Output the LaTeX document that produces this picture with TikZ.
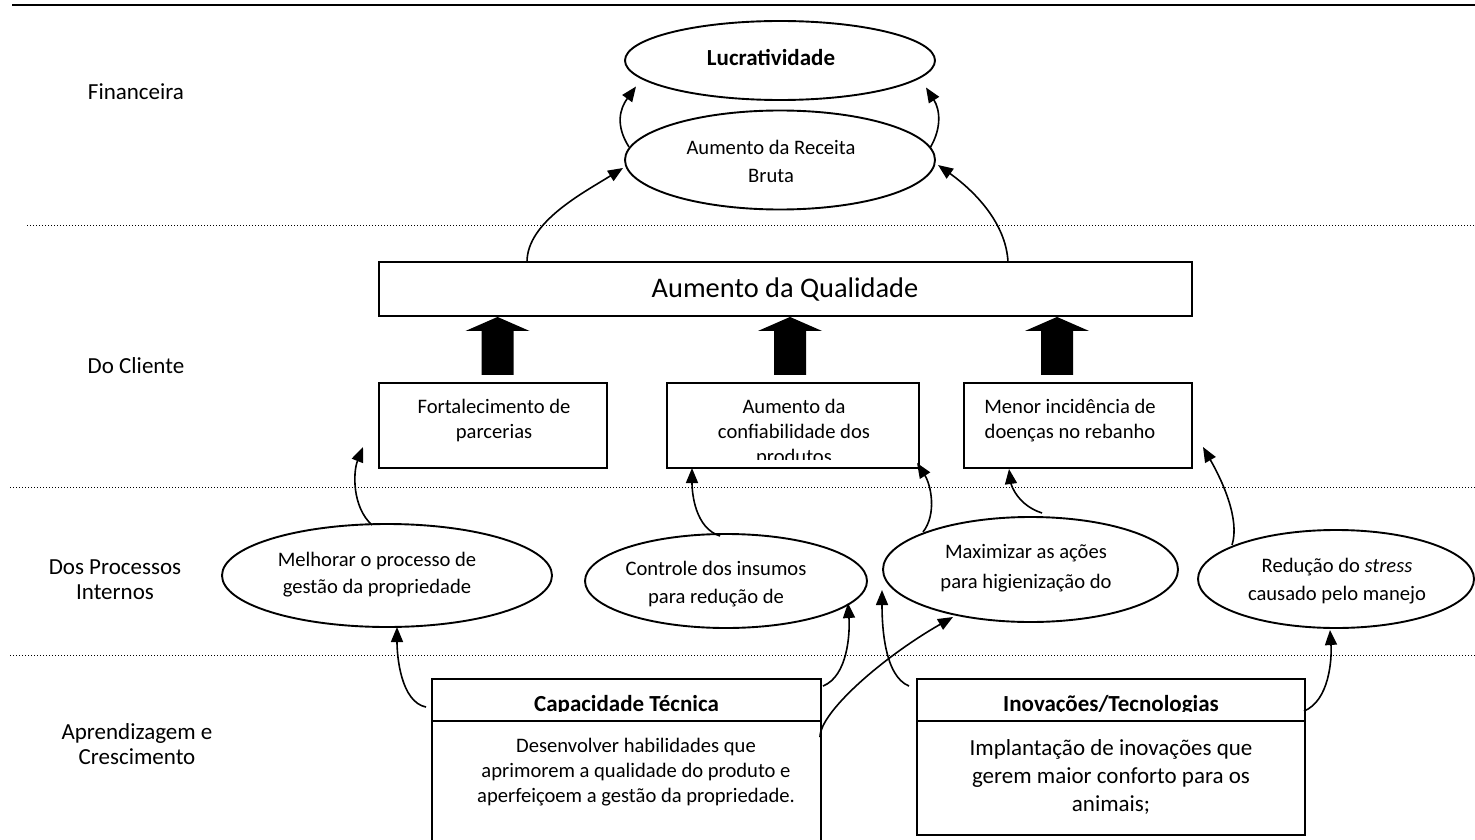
\documentclass[tikz,border=0pt]{standalone}
\usepackage{fontspec}
\setmainfont{Carlito}
\usetikzlibrary{arrows.meta,shapes.geometric}
\begin{document}
\begin{tikzpicture}[x=1pt,y=-1pt,
  conn/.style={line width=1.6pt,-{Triangle[length=15pt,width=12pt]}},
  oval/.style={ellipse,draw,line width=1.9pt,inner sep=0pt},
  boxed/.style={rectangle,draw,line width=1.9pt,inner sep=0pt},
  txt/.style={align=center,inner sep=0pt,font=\fontsize{20.6}{25}\selectfont},
  txtm/.style={align=center,inner sep=0pt,font=\fontsize{23}{25}\selectfont},
  txtl/.style={align=center,inner sep=0pt,font=\fontsize{28.4}{34}\selectfont},
  sep/.style={line width=1pt,dash pattern=on 1pt off 2pt},
  blockarrow/.pic={\fill (-16,58)--(-16,14)--(-32,14)--(0,0)--(32,14)--(16,14)--(16,58)--cycle;}
]
\clip (0,0) rectangle (1475,840);
\fill[white] (0,0) rectangle (1475,840);

% frame lines between the perspectives
\draw[line width=2.2pt] (12,5) -- (1475,5);
\draw[sep] (27,225) -- (1475,225);
\draw[sep] (10,487) -- (1475,487);
\draw[sep] (10,655) -- (1475,655);

% perspective labels
\node[txtm] (lab1) at (136,92) {Financeira};
\node[txtm] (lab2) at (136,366) {Do Cliente};
\node[txtm] (lab3) at (115,580) {Dos Processos\\Internos};
\node[txtm] (lab4) at (137,744) {Aprendizagem e\\Crescimento};

% financial perspective
\node[oval,minimum width=310,minimum height=79] (lucr) at (780,60.5) {};
\node[oval,minimum width=310,minimum height=99] (rec) at (780,160) {};
\node[txtm,font=\fontsize{23}{25}\selectfont\bfseries] (tlucr) at (771,57) {Lucratividade};
\node[txt,font=\fontsize{20.6}{28}\selectfont] (trec) at (771,161) {Aumento da Receita\\Bruta};

% customer perspective
\node[boxed,minimum width=813,minimum height=54] (qual) at (785.5,289) {};
\node[txtl] (tqual) at (785,290) {Aumento da Qualidade};
\node[boxed,minimum width=228,minimum height=85] (c1) at (493,425.5) {};
\node[boxed,minimum width=252,minimum height=85] (c2) at (793,425.5) {};
\node[boxed,minimum width=228,minimum height=85] (c3) at (1078,425.5) {};
\node[txt] (tc1) at (494,421) {Fortalecimento de\\parcerias};
\begin{scope}
  \clip (c2.north west) rectangle ([shift={(0,-9)}]c2.south east);
  \node[txt] (tc2) at (794,433) {Aumento da\\confiabilidade dos\\produtos};
\end{scope}
\node[txt] (tc3) at (1070,421) {Menor incidência de\\doenças no rebanho};

\pic at ([shift={(-288,0)}]qual.south) {blockarrow};
\pic at ([shift={(4.5,0)}]qual.south) {blockarrow};
\pic at ([shift={(271.5,0)}]qual.south) {blockarrow};

% internal processes perspective
\node[oval,minimum width=330,minimum height=103] (e1) at (387,575.5) {};
\node[oval,minimum width=282,minimum height=94] (e2) at (726,581) {};
\node[oval,minimum width=295,minimum height=105] (e3) at (1030.5,569.5) {};
\node[oval,minimum width=276,minimum height=98] (e4) at (1336,579) {};
\node[txt,font=\fontsize{20.6}{27}\selectfont] (te1) at (377,575) {Melhorar o processo de\\gestão da propriedade};
\node[txt,font=\fontsize{20.6}{28}\selectfont] (te2) at (716,584) {Controle dos insumos\\para redução de};
\node[txt,font=\fontsize{20.6}{30}\selectfont] (te3) at (1026,568) {Maximizar as ações\\para higienização do};
\node[txt,font=\fontsize{20.6}{28}\selectfont] (te4) at (1337,581) {Redução do \textit{stress}\\causado pelo manejo};

% learning and growth perspective
\node[boxed,minimum width=389,minimum height=171] (cap) at (626.5,764.5) {};
\draw[line width=1.9pt] ([shift={(0,43)}]cap.north west) -- ([shift={(0,43)}]cap.north east);
\node[boxed,minimum width=388,minimum height=156] (ino) at (1111,757) {};
\draw[line width=1.9pt] ([shift={(0,43)}]ino.north west) -- ([shift={(0,43)}]ino.north east);
\begin{scope}
  \clip (cap.north west) rectangle ([shift={(0,33)}]ino.north east);
  \node[txtm,font=\fontsize{23}{25}\selectfont\bfseries] (tcaph) at (626.5,705) {Capacidade Técnica};
  \node[txtm,font=\fontsize{23}{25}\selectfont\bfseries] (tinoh) at (1111,705) {Inovações/Tecnologias};
\end{scope}
\node[txt] (tcapb) at (636,772) {Desenvolver habilidades que\\aprimorem a qualidade do produto e\\aperfeiçoem a gestão da propriedade.};
\node[txtm,font=\fontsize{23}{28}\selectfont] (tinob) at (1111,777) {Implantação de inovações que\\gerem maior conforto para os\\animais;};

% cause-and-effect links
\draw[conn] ([shift={(-151,-13)}]rec.center) .. controls +(-14,-22) and +(-16,22) .. ([shift={(-144,26)}]lucr.center);
\draw[conn] ([shift={(150,-12)}]rec.center) .. controls +(12,-20) and +(14,22) .. ([shift={(146,27)}]lucr.center);
\draw[conn] ([shift={(-258.5,-27)}]qual.center) .. controls +(0,-40) and +(-40,25) .. ([shift={(-157,8)}]rec.center);
\draw[conn] ([shift={(222.5,-27)}]qual.center) .. controls +(-2,-40) and +(35,25) .. ([shift={(158,5)}]rec.center);

\draw[conn] ([shift={(-15,-50.5)}]e1.center) .. controls +(-20,-18) and +(-10,25) .. ([shift={(-130,21.5)}]c1.center);
\draw[conn] ([shift={(-6,-45)}]e2.center) .. controls +(-25,-8) and +(0,25) .. ([shift={(-101,42.5)}]c2.center);
\draw[conn] ([shift={(-107.5,-37.5)}]e3.center) .. controls +(14,-18) and +(14,22) .. ([shift={(124,37.5)}]c2.center);
\draw[conn] ([shift={(11.5,-56.5)}]e3.center) .. controls +(-25,-8) and +(2,15) .. ([shift={(-69,43.5)}]c3.center);
\draw[conn] ([shift={(-104,-34)}]e4.center) .. controls +(8,-25) and +(20,35) .. ([shift={(125,21.5)}]c3.center);

\draw[conn] ([shift={(-5,29)}]cap.north west) .. controls +(-25,-5) and +(0,30) .. ([shift={(10,51.5)}]e1.center);
\draw[conn] ([shift={(1,8)}]cap.north east) .. controls +(25,-10) and +(2,30) .. ([shift={(122,22)}]e2.center);
\draw[conn] ([shift={(-2,59)}]cap.north east) .. controls +(0,-25) and +(-70,40) .. ([shift={(-77.5,47.5)}]e3.center);
\draw[conn] ([shift={(-7,8)}]ino.north west) .. controls +(-25,-10) and +(0,35) .. ([shift={(-148.5,20.5)}]e3.center);
\draw[conn] ([shift={(-2,33)}]ino.north east) .. controls +(25,-10) and +(2,30) .. ([shift={(-6,51)}]e4.center);
\end{tikzpicture}
\end{document}
